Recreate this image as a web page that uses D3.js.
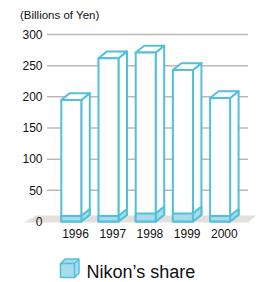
<!DOCTYPE html>
<html><head><meta charset="utf-8">
<script src="https://cdn.jsdelivr.net/npm/d3@7"></script>
<style>body{margin:0;background:#fff}svg{display:block}text{font-family:"Liberation Sans",Arial,Helvetica,sans-serif;fill:#111}</style>
</head><body><div id="c"></div>
<script>
const years = ["1996","1997","1998","1999","2000"];
const marketTotal = [195, 262, 271, 243, 198];
const nikonShare = [9, 9, 13, 13, 9];
const yTicks = [0, 50, 100, 150, 200, 250, 300];
const unitLabel = "(Billions of Yen)";
const legendLabel = "Nikon\u2019s share";

const W = 256, H = 282;
const stroke = "#52c0dc", shareFill = "#a8dceb", grid = "#bdb7b3", floorC = "#e3dfdc";
const svg = d3.select("#c").append("svg").attr("width", W).attr("height", H);

const y = d3.scaleLinear().domain([0, 300]).range([221.5, 34.5]);
const x = d3.scaleBand().domain(years).range([42.7, 248.7]).paddingInner(0.4624).paddingOuter(0.5);
const dx = 8.5, dy = 6.8;

// floor
svg.append("path").attr("fill", floorC)
  .attr("d", `M24,222.5 L36,215.5 L256,215.5 L248,222.5 Z`);

// gridlines
svg.append("g").selectAll("line").data(yTicks.filter(t => t > 0)).join("line")
  .attr("x1", 47).attr("x2", 248).attr("y1", d => y(d)).attr("y2", d => y(d))
  .attr("stroke", grid).attr("stroke-width", 1.5);

// y tick labels
svg.append("g").selectAll("text").data(yTicks).join("text")
  .attr("x", 42.5).attr("y", d => y(d)).attr("dy", "0.35em")
  .attr("text-anchor", "end").attr("font-size", 12).text(d => d);

svg.append("text").attr("x", 20).attr("y", 19).attr("font-size", 11.5).text(unitLabel);

// bars
const data = years.map((yr, i) => ({yr, v: marketTotal[i], s: nikonShare[i]}));
const g = svg.append("g").selectAll("g").data(data).join("g");
g.each(function(d) {
  const sel = d3.select(this);
  const x0 = x(d.yr), w = x.bandwidth(), yt = y(d.v), y0 = y(0), ys = y(d.s);
  const common = s => s.attr("stroke", stroke).attr("stroke-width", 2).attr("stroke-linejoin", "round");
  common(sel.append("path").attr("fill", "#fff")
    .attr("d", `M${x0+w},${yt} L${x0+w+dx},${yt-dy} L${x0+w+dx},${y0-dy} L${x0+w},${y0} Z`));
  common(sel.append("path").attr("fill", shareFill)
    .attr("d", `M${x0+w},${ys} L${x0+w+dx},${ys-dy} L${x0+w+dx},${y0-dy} L${x0+w},${y0} Z`));
  common(sel.append("path").attr("fill", "#fff")
    .attr("d", `M${x0},${yt} L${x0+dx},${yt-dy} L${x0+w+dx},${yt-dy} L${x0+w},${yt} Z`));
  common(sel.append("rect").attr("x", x0).attr("y", yt).attr("width", w).attr("height", y0 - yt).attr("fill", "#fff"));
  common(sel.append("rect").attr("x", x0).attr("y", ys).attr("width", w).attr("height", y0 - ys).attr("fill", shareFill));
});

// x labels
svg.append("g").selectAll("text").data(years).join("text")
  .attr("x", d => x(d) + x.bandwidth() / 2 + dx / 2).attr("y", 237.5)
  .attr("text-anchor", "middle").attr("font-size", 12).text(d => d);

// legend
const lg = svg.append("g");
const lx = 60.5, ly = 263.5, ls = 14, ld = 4.5;
lg.append("path").attr("fill", shareFill).attr("stroke", stroke).attr("stroke-width", 1.5).attr("stroke-linejoin", "round")
  .attr("d", `M${lx},${ly} L${lx+ld},${ly-ld} L${lx+ls+ld},${ly-ld} L${lx+ls+ld},${ly+ls-ld} L${lx+ls},${ly+ls} L${lx},${ly+ls} Z M${lx},${ly} L${lx+ls},${ly} L${lx+ls},${ly+ls} M${lx+ls},${ly} L${lx+ls+ld},${ly-ld}`);
lg.append("text").attr("x", 86.5).attr("y", 277.5).attr("font-size", 18).text(legendLabel);
</script></body></html>
